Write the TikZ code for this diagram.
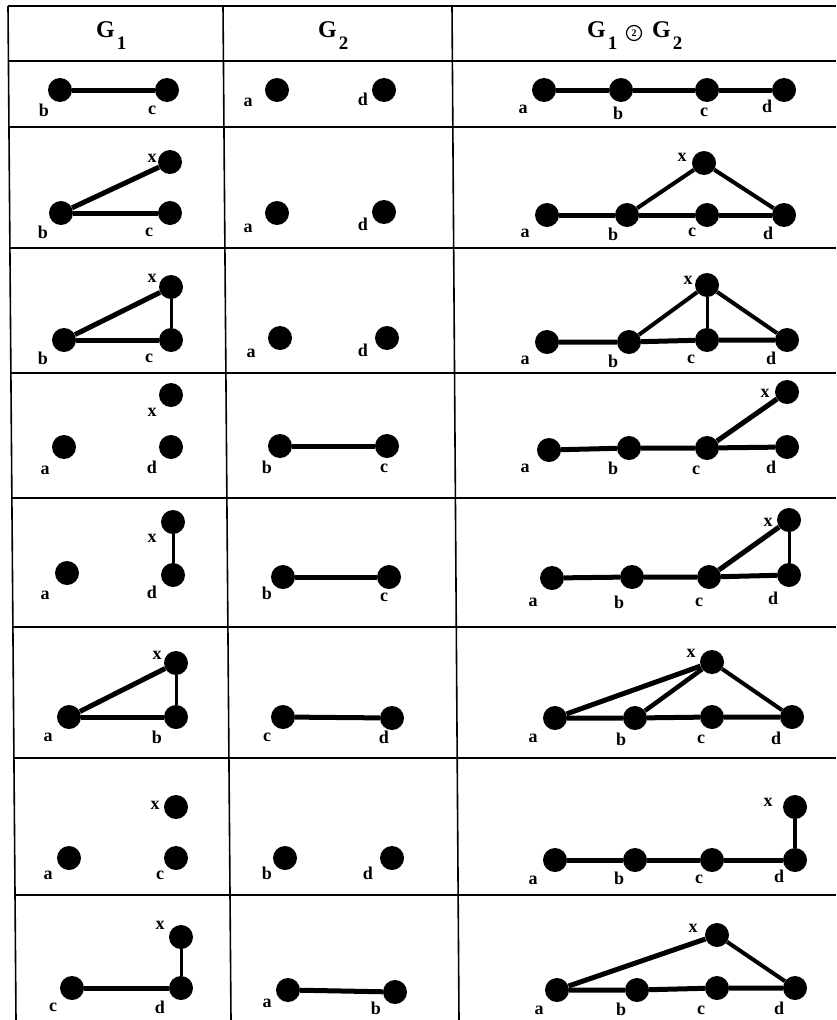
\documentclass[tikz,border=0pt]{standalone}
\usepackage{fontspec}
\setmainfont{Liberation Serif}
\usetikzlibrary{calc}
\tikzset{
  vtx/.style={circle, fill=black, inner sep=0pt, minimum size=24pt},
  lbl/.style={font=\fontsize{18}{18}\selectfont\bfseries, inner sep=0pt},
  edg/.style={line width=5pt},
  thinedg/.style={line width=3pt},
  gridline/.style={line width=1.6pt},
  hdr/.style={font=\fontsize{24}{24}\selectfont\bfseries, inner sep=0pt, anchor=base west},
  circ/.style={circle, draw, line width=1.2pt, inner sep=0pt, minimum size=15pt, font=\fontsize{10}{10}\selectfont\bfseries},
}
\newcommand\vt[6]{\node[vtx] (#1) at (#2,#3) {}; \node[lbl] (#1l) at (#5,#6) {#4};}
\newcommand\gsub[1]{G\kern2pt\raisebox{-12pt}{\fontsize{19}{19}\selectfont #1}}
\begin{document}
\begin{tikzpicture}[x=1pt,y=-1pt]
\fill[white] (0,0) rectangle (836,1020);
\useasboundingbox (0,0) rectangle (836,1020);
% table
\coordinate (L0) at (8,6);  \coordinate (L1) at (16,1020);
\coordinate (C10) at (223,6); \coordinate (C11) at (231,1020);
\coordinate (C20) at (452,6); \coordinate (C21) at (459,1020);
\draw[gridline] (L0) -- (L1);
\draw[gridline] (C10) -- (C11);
\draw[gridline] (C20) -- (C21);
\foreach \yy/\xx in {6/8, 61/8.5, 127/9, 248/10, 373/11, 498/12, 627/13, 758/14, 895/15}{
  \coordinate (hl\yy) at (\xx,\yy);
  \coordinate (hr\yy) at (836,\yy);
  \draw[line width=1.9pt] (hl\yy) -- (hr\yy);
}
% header
\node[hdr] (h1) at (96,37) {\gsub{1}};
\node[hdr] (h2) at (318,37) {\gsub{2}};
\node[hdr] (h3a) at (587,37) {\gsub{1}};
\node[circ] (h3c) at (634,33) {2};
\node[hdr] (h3b) at (652,37) {\gsub{2}};

% ---------- Row 1
\vt{r1Ab}{60}{90}{b}{44}{110}
\vt{r1Ac}{167}{90}{c}{152}{110}
\draw[edg] (r1Ab) -- (r1Ac);
\vt{r1Ba}{277}{90}{a}{248}{102}
\vt{r1Bd}{384}{90}{d}{363}{99}
\vt{r1Ca}{544}{90}{a}{523}{109}
\vt{r1Cb}{621}{90}{b}{618}{113}
\vt{r1Cc}{707}{90}{c}{704}{112}
\vt{r1Cd}{784}{90}{d}{767}{106}
\draw[edg] (r1Ca) -- (r1Cb) -- (r1Cc) -- (r1Cd);

% ---------- Row 2
\vt{r2Ax}{170}{162}{x}{152}{158}
\vt{r2Ab}{61}{213}{b}{43}{232}
\vt{r2Ac}{170}{213}{c}{149}{232}
\draw[edg] (r2Ab) -- (r2Ax);
\draw[edg] (r2Ab) -- (r2Ac);
\vt{r2Ba}{277}{213}{a}{248}{228}
\vt{r2Bd}{384}{212}{d}{363}{224}
\vt{r2Ca}{547}{215}{a}{525}{233}
\vt{r2Cb}{627}{215}{b}{613}{234}
\vt{r2Cc}{707}{215}{c}{692}{232}
\vt{r2Cd}{784}{215}{d}{768}{233}
\vt{r2Cx}{704}{163}{x}{682}{157}
\draw[edg] (r2Ca) -- (r2Cb) -- (r2Cc) -- (r2Cd);
\draw[line width=4pt] (r2Cb) -- (r2Cx) -- (r2Cd);

% ---------- Row 3
\vt{r3Ax}{171}{287}{x}{152}{278}
\vt{r3Ab}{64}{340}{b}{43}{358}
\vt{r3Ac}{171}{340}{c}{149}{358}
\draw[edg] (r3Ab) -- (r3Ax);
\draw[thinedg] (r3Ax) -- (r3Ac);
\draw[edg] (r3Ab) -- (r3Ac);
\vt{r3Ba}{280}{338}{a}{251}{353}
\vt{r3Bd}{387}{338}{d}{363}{350}
\vt{r3Ca}{547}{342}{a}{525}{360}
\vt{r3Cb}{629}{342}{b}{613}{361}
\vt{r3Cc}{707}{340}{c}{691}{359}
\vt{r3Cd}{787}{340}{d}{771}{358}
\vt{r3Cx}{707}{285}{x}{688}{280}
\draw[edg] (r3Ca) -- (r3Cb) -- (r3Cc) -- (r3Cd);
\draw[line width=4pt] (r3Cb) -- (r3Cx) -- (r3Cd);
\draw[thinedg] (r3Cx) -- (r3Cc);

% ---------- Row 4
\vt{r4Ax}{171}{395}{x}{152}{412}
\vt{r4Aa}{64}{447}{a}{45}{470}
\vt{r4Ad}{171}{447}{d}{152}{467}
\vt{r4Bb}{280}{446}{b}{267}{467}
\vt{r4Bc}{387}{446}{c}{384}{468}
\draw[edg] (r4Bb) -- (r4Bc);
\vt{r4Ca}{549}{450}{a}{525}{468}
\vt{r4Cb}{629}{448}{b}{613}{468}
\vt{r4Cc}{707}{448}{c}{696}{470}
\vt{r4Cd}{787}{447}{d}{771}{467}
\vt{r4Cx}{787}{392}{x}{765}{393}
\draw[edg] (r4Ca) -- (r4Cb) -- (r4Cc) -- (r4Cd);
\draw[edg] (r4Cc) -- (r4Cx);

% ---------- Row 5
\vt{r5Aa}{67}{573}{a}{45}{595}
\vt{r5Ax}{173}{522}{x}{152}{538}
\vt{r5Ad}{173}{575}{d}{152}{592}
\draw[thinedg] (r5Ax) -- (r5Ad);
\vt{r5Bb}{283}{577}{b}{267}{593}
\vt{r5Bc}{389}{577}{c}{384}{597}
\draw[edg] (r5Bb) -- (r5Bc);
\vt{r5Ca}{552}{578}{a}{533}{602}
\vt{r5Cb}{632}{577}{b}{619}{602}
\vt{r5Cc}{709}{577}{c}{699}{602}
\vt{r5Cd}{789}{575}{d}{773}{598}
\vt{r5Cx}{789}{520}{x}{768}{522}
\draw[edg] (r5Ca) -- (r5Cb) -- (r5Cc) -- (r5Cd);
\draw[edg] (r5Cc) -- (r5Cx);
\draw[thinedg] (r5Cx) -- (r5Cd);

% ---------- Row 6
\vt{r6Ax}{176}{663}{x}{157}{655}
\vt{r6Aa}{69}{717}{a}{48}{737}
\vt{r6Ab}{176}{717}{b}{157}{737}
\draw[edg] (r6Aa) -- (r6Ax);
\draw[thinedg] (r6Ax) -- (r6Ab);
\draw[edg] (r6Aa) -- (r6Ab);
\vt{r6Bc}{283}{717}{c}{267}{737}
\vt{r6Bd}{392}{718}{d}{384}{737}
\draw[edg] (r6Bc) -- (r6Bd);
\vt{r6Ca}{555}{718}{a}{533}{738}
\vt{r6Cb}{635}{718}{b}{621}{739}
\vt{r6Cc}{712}{717}{c}{701}{739}
\vt{r6Cd}{792}{717}{d}{776}{738}
\vt{r6Cx}{712}{662}{x}{691}{653}
\draw[edg] (r6Ca) -- (r6Cb) -- (r6Cc) -- (r6Cd);
\draw[edg] (r6Ca) -- (r6Cx);
\draw[line width=4.5pt] (r6Cb) -- (r6Cx);
\draw[line width=4pt] (r6Cx) -- (r6Cd);

% ---------- Row 7
\vt{r7Ax}{176}{807}{x}{155}{805}
\vt{r7Aa}{69}{858}{a}{48}{875}
\vt{r7Ac}{176}{858}{c}{160}{875}
\vt{r7Bb}{285}{858}{b}{267}{873}
\vt{r7Bd}{392}{858}{d}{368}{873}
\vt{r7Ca}{555}{860}{a}{533}{880}
\vt{r7Cb}{635}{860}{b}{619}{878}
\vt{r7Cc}{712}{860}{c}{699}{879}
\vt{r7Cd}{795}{860}{d}{779}{876}
\vt{r7Cx}{795}{807}{x}{768}{802}
\draw[edg] (r7Ca) -- (r7Cb) -- (r7Cc) -- (r7Cd);
\draw[line width=4pt] (r7Cd) -- (r7Cx);

% ---------- Row 8
\vt{r8Ax}{181}{937}{x}{160}{925}
\vt{r8Ac}{72}{988}{c}{53}{1007}
\vt{r8Ad}{181}{988}{d}{160}{1007}
\draw[edg] (r8Ac) -- (r8Ad);
\draw[thinedg] (r8Ax) -- (r8Ad);
\vt{r8Ba}{288}{990}{a}{267}{1003}
\vt{r8Bb}{395}{992}{b}{376}{1008}
\draw[edg] (r8Ba) -- (r8Bb);
\vt{r8Ca}{557}{990}{a}{539}{1010}
\vt{r8Cb}{637}{990}{b}{621}{1009}
\vt{r8Cc}{717}{988}{c}{701}{1010}
\vt{r8Cd}{795}{988}{d}{779}{1008}
\vt{r8Cx}{717}{935}{x}{693}{928}
\draw[edg] (r8Ca) -- (r8Cb) -- (r8Cc) -- (r8Cd);
\draw[edg] (r8Ca) -- (r8Cx);
\draw[line width=4pt] (r8Cx) -- (r8Cd);
\end{tikzpicture}
\end{document}
